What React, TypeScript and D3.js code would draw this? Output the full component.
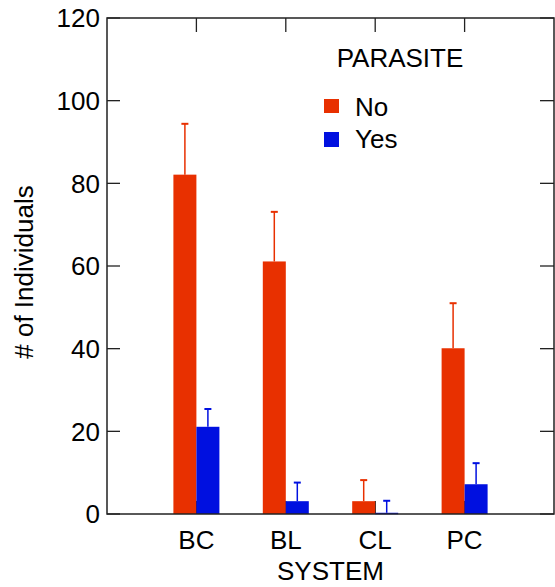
import React from 'react';
import * as d3 from 'd3';

const systems = ['BC', 'BL', 'CL', 'PC'];
const noValues = [82.1, 61.1, 3.1, 40.1];
const noErrors = [94.4, 73.1, 8.2, 51.0];
const yesValues = [21.1, 3.1, 0.3, 7.2];
const yesErrors = [25.4, 7.6, 3.2, 12.3];
const yTicks = [0, 20, 40, 60, 80, 100, 120];

const W = 555, H = 587;
const m = { l: 107, r: 554, t: 18, b: 514 };
const RED = '#e83000';
const BLUE = '#0010e0';
const FONT = '"Liberation Sans", Arial, sans-serif';
const FS = 26;

export default function App() {
  const x = d3.scaleLinear().domain([0, systems.length + 1]).range([m.l, m.r]);
  const y = d3.scaleLinear().domain([0, 120]).range([m.b, m.t]);
  const bw = 23, tick = 13, cap = 3.5;

  const series = [
    { vals: noValues, errs: noErrors, color: RED, off: -bw },
    { vals: yesValues, errs: yesErrors, color: BLUE, off: 0 },
  ];

  return (
    <svg width={W} height={H} style={{ position: 'absolute', left: 0, top: 0, background: '#fff' }} fontFamily={FONT}>
      {/* bottom ticks, drawn under the bars */}
      {systems.map((s, i) => (
        <line key={'bt' + s} x1={x(i + 1)} x2={x(i + 1)} y1={m.b} y2={m.b - tick} stroke="#111" strokeWidth={1.3} />
      ))}
      {series.map((se, k) => (
        <g key={k}>
          {systems.map((s, i) => {
            const cx = x(i + 1) + se.off + bw / 2;
            return (
              <g key={s}>
                <line x1={cx} x2={cx} y1={y(se.vals[i])} y2={y(se.errs[i])} stroke={se.color} strokeWidth={1.5} />
                <line x1={cx - cap} x2={cx + cap} y1={y(se.errs[i])} y2={y(se.errs[i])} stroke={se.color} strokeWidth={2} />
                <rect x={x(i + 1) + se.off} y={y(se.vals[i])} width={bw} height={Math.max(1.5, y(0) - y(se.vals[i]))} fill={se.color} />
              </g>
            );
          })}
        </g>
      ))}
      {/* frame */}
      <rect x={m.l} y={m.t} width={m.r - m.l} height={m.b - m.t} fill="none" stroke="#222" strokeWidth={1.5} />
      {/* top ticks */}
      {systems.map((s, i) => (
        <line key={'tt' + s} x1={x(i + 1)} x2={x(i + 1)} y1={m.t} y2={m.t + tick + 1} stroke="#222" strokeWidth={1.3} />
      ))}
      {/* y ticks both sides */}
      {yTicks.map(v => (
        <g key={v}>
          <line x1={m.l} x2={m.l + tick} y1={y(v)} y2={y(v)} stroke="#222" strokeWidth={1.3} />
          <line x1={m.r} x2={m.r - tick - 1} y1={y(v)} y2={y(v)} stroke="#222" strokeWidth={1.3} />
          <text x={m.l - 7} y={y(v)} dy="0.36em" textAnchor="end" fontSize={FS} fill="#000">{v}</text>
        </g>
      ))}
      {/* category labels */}
      {systems.map((s, i) => (
        <text key={'cl' + s} x={x(i + 1)} y={549} textAnchor="middle" fontSize={FS} fill="#000">{s}</text>
      ))}
      <text x={x(2.5)} y={580} textAnchor="middle" fontSize={FS} fill="#000">SYSTEM</text>
      <text transform={`translate(33,${(m.t + m.b) / 2 + 6}) rotate(-90)`} textAnchor="middle" fontSize={FS} fill="#000"># of Individuals</text>
      {/* legend */}
      <text x={400} y={67} textAnchor="middle" fontSize={FS} fill="#000">PARASITE</text>
      <rect x={324} y={99} width={15} height={14} fill={RED} />
      <text x={355} y={116} fontSize={FS} fill="#000">No</text>
      <rect x={324} y={132} width={15} height={15} fill={BLUE} />
      <text x={355} y={148} fontSize={FS} fill="#000">Yes</text>
    </svg>
  );
}
